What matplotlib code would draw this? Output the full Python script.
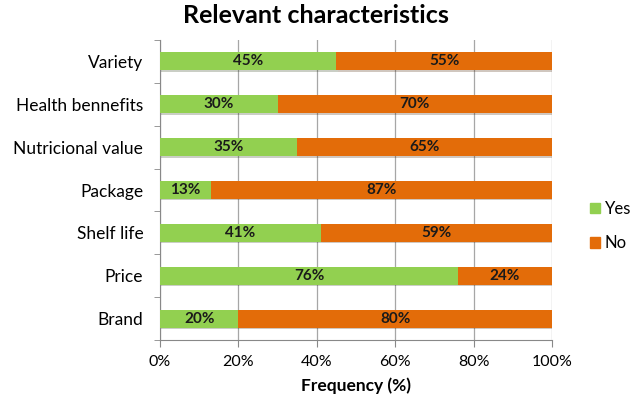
import numpy as np
import matplotlib.pyplot as plt
import matplotlib.patheffects as pe
from matplotlib.patches import Patch

categories = ["Variety", "Health bennefits", "Nutricional value", "Package",
              "Shelf life", "Price", "Brand"]
yes = [45, 30, 35, 13, 41, 76, 20]
no = [55, 70, 65, 87, 59, 24, 80]

groenn = "#92D050"
oransje = "#E36C09"

plt.rcParams['font.family'] = ['Lato', 'DejaVu Sans']

fig = plt.figure(figsize=(6.32, 3.96), dpi=100)
ax = fig.add_axes([160/632, 1 - 340/396, 392/632, 300/396])

y = np.arange(len(categories))[::-1]
skugge = [pe.SimplePatchShadow(offset=(1, -1), alpha=0.25), pe.Normal()]

b1 = ax.barh(y, yes, height=0.42, color=groenn, zorder=3)
b2 = ax.barh(y, no, left=yes, height=0.42, color=oransje, zorder=3)
for b in list(b1) + list(b2):
    b.set_path_effects(skugge)

for yi, v1, v2 in zip(y, yes, no):
    ax.text(v1 / 2, yi, f"{v1}%", ha="center", va="center",
            fontsize=11, fontweight="bold", color="#1a1a1a", zorder=4)
    ax.text(v1 + v2 / 2, yi, f"{v2}%", ha="center", va="center",
            fontsize=11, fontweight="bold", color="#1a1a1a", zorder=4)

ax.set_xlim(0, 100)
ax.set_ylim(-0.5, len(categories) - 0.5)
ax.set_xticks(np.arange(0, 101, 20))
ax.set_xticklabels([f"{v}%" for v in range(0, 101, 20)])
ax.set_yticks(y)
ax.set_yticklabels(categories)
ax.set_yticks(np.arange(-0.5, len(categories), 1), minor=True)
ax.tick_params(axis="y", which="major", length=0, pad=12, labelsize=12.5)
ax.tick_params(axis="y", which="minor", length=4, color="#888888")
ax.tick_params(axis="x", length=5, color="#888888", labelsize=11.5, pad=6)
ax.grid(axis="x", color="#a6a6a6", linewidth=0.9, zorder=0)

for s in ["top", "right"]:
    ax.spines[s].set_visible(False)
for s in ["left", "bottom"]:
    ax.spines[s].set_color("#888888")

ax.set_xlabel("Frequency (%)", fontsize=12.5, fontweight="bold", labelpad=6)
fig.suptitle("Relevant characteristics", fontsize=18, fontweight="bold", y=0.99)

fig.legend(handles=[Patch(color=groenn), Patch(color=oransje)],
           labels=["Yes", "No"], loc="center left",
           bbox_to_anchor=(590/632, 1 - 226/396), frameon=False,
           borderaxespad=0, borderpad=0,
           fontsize=12, handlelength=0.6, handleheight=0.6, handletextpad=0.3,
           labelspacing=1.1)

fig.savefig("out.png", dpi=100)
